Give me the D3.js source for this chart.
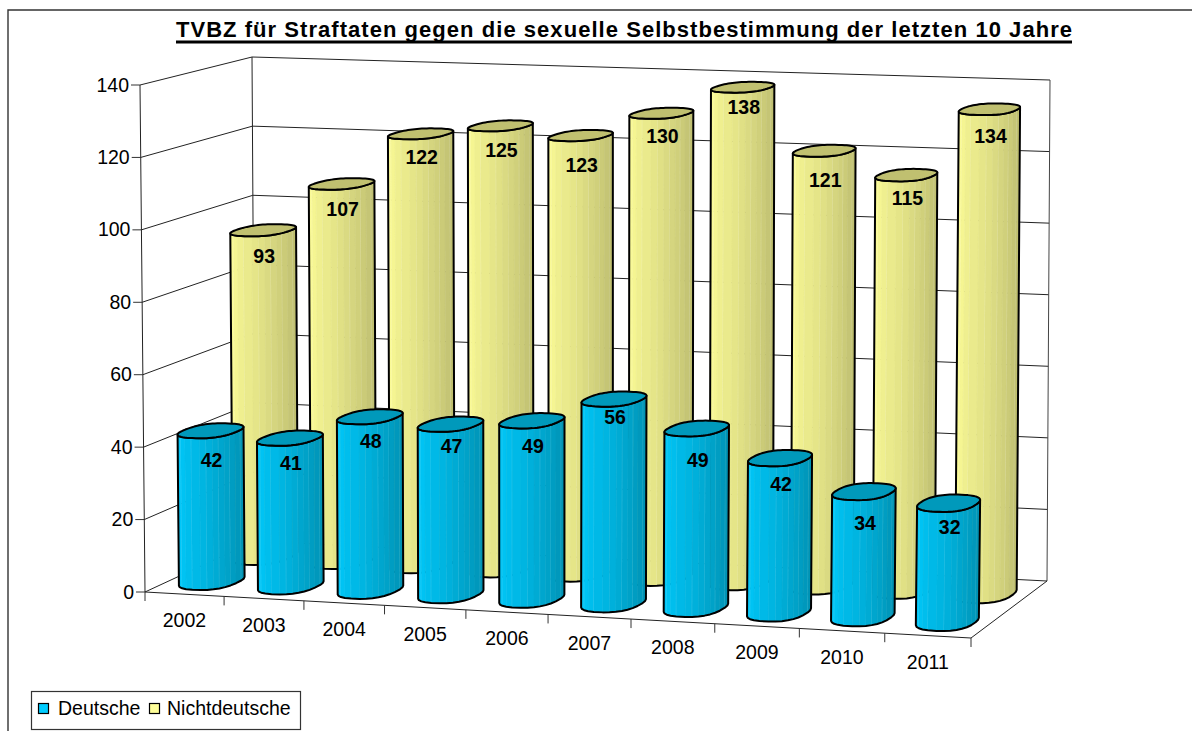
<!DOCTYPE html>
<html><head><meta charset="utf-8">
<script src="https://cdnjs.cloudflare.com/ajax/libs/d3/7.8.5/d3.min.js"></script>
<style>html,body{margin:0;padding:0;background:#fff}svg{display:block}text{font-family:"Liberation Sans",Arial,sans-serif;fill:#000}</style>
</head><body><svg id="c" width="1192" height="731"></svg>
<script>
const titleText = "TVBZ für Straftaten gegen die sexuelle Selbstbestimmung der letzten 10 Jahre";
const years = ["2002","2003","2004","2005","2006","2007","2008","2009","2010","2011"];
const deutsche = [42,41,48,47,49,56,49,42,34,32];
const nichtdeutsche = [93,107,122,125,123,130,138,121,115,134];
const valueTicks = [0,20,40,60,80,100,120,140];
const seriesNames = ["Deutsche","Nichtdeutsche"];

const svg = d3.select("#c");
const C = {fbl:[145,592],fbr:[971,638],ftl:[140,85],ftr:[978,114],
           bbl:[255,541],bbr:[1047,581],btl:[252,57],btr:[1050,80]};
const uWarp = (u,d) => {const k=0.047*(1-0.5*d); return u*(1-k)/(1-k*u);};
const v = d3.scaleLinear().domain([0,140]).range([0,1]);
const band = d3.scaleBand().domain(years).range([0,1]);
const lerp = (a,b,t)=>[a[0]+(b[0]-a[0])*t,a[1]+(b[1]-a[1])*t];
function P(u,d,val){
  const w=uWarp(u,d), t=v(val);
  const fb=lerp(C.fbl,C.fbr,w), ft=lerp(C.ftl,C.ftr,w), bb=lerp(C.bbl,C.bbr,w), bt=lerp(C.btl,C.btr,w);
  return lerp(lerp(fb,ft,t),lerp(bb,bt,t),d);
}
const line=(a,b,w,col)=>svg.append("line").attr("x1",a[0]).attr("y1",a[1]).attr("x2",b[0]).attr("y2",b[1])
  .attr("stroke",col||"#000").attr("stroke-width",w||1);

// outer frame
svg.append("path").attr("d","M8 731V10H1192").attr("fill","none").attr("stroke","#333").attr("stroke-width",1.4);

// walls & grid
valueTicks.forEach(t=>{
  line(P(0,0,t),P(0,1,t),1,"#222");
  if(t>0) line(P(0,1,t),P(1,1,t),1,"#222");
  const p=P(0,0,t);
  line([p[0]-9,p[1]],p,1,"#333");
  svg.append("text").attr("x",p[0]-11).attr("y",p[1]+6.5).attr("text-anchor","end").attr("font-size",19.5).text(t);
});
line(P(0,1,0),P(0,1,140),1,"#222");
line(P(1,1,0),P(1,1,140),1,"#444");
line(P(0,0,0),P(0,0,140),1,"#222");
line(P(0,1,0),P(1,1,0),1,"#222");
line(P(1,0,0),P(1,1,0),1,"#222");
line(P(0,0,0),P(1,0,0),1,"#222");
d3.range(0,11).forEach(i=>{const p=P(i/10,0,0);line(p,[p[0],p[1]+9],1,"#333");});
years.forEach(y=>{
  const u=band(y)+band.bandwidth()/2, p=P(u,0,0);
  svg.append("text").attr("x",p[0]).attr("y",p[1]+33).attr("text-anchor","middle").attr("font-size",19.5).text(y);
});

// cylinders
const ru=0.032, rd=0.165, N=14, sq=0.82;
const spow=x=>Math.sign(x)*Math.pow(Math.abs(x),sq);
function cylinder(u,dc,val,c0,c1,cTop,cLine,dy){
  const g=svg.append("g");
  const ring=(vv,a)=>P(u+ru*spow(Math.cos(a)),dc+rd*spow(Math.sin(a)),vv);
  let aL=0,aR=0,minX=1e9,maxX=-1e9;
  d3.range(0,360).forEach(i=>{const a=i*Math.PI/180,p=ring(val/2,a);if(p[0]<minX){minX=p[0];aL=a}if(p[0]>maxX){maxX=p[0];aR=a}});
  let a0=aL,a1=aR;
  while(a1>a0)a1-=2*Math.PI;
  if(Math.sin((a0+a1)/2)>0) {a1=aR; while(a1<a0)a1+=2*Math.PI;}
  const col=d3.scaleLinear().domain([0,1]).range([c0,c1]).interpolate(d3.interpolateRgb);
  const angs=d3.range(N+1).map(i=>a0+(a1-a0)*i/N);
  for(let i=0;i<N;i++){
    const t=i/(N-1);
    const pts=[ring(val,angs[i]),ring(val,angs[i+1]),ring(0,angs[i+1]),ring(0,angs[i])];
    g.append("polygon").attr("points",pts.join(" ")).attr("fill",col(t)).attr("stroke",col(t)).attr("stroke-width",.6);
    if(i%2==1&&i<N-1) g.append("line").attr("x1",pts[1][0]).attr("y1",pts[1][1]).attr("x2",pts[2][0]).attr("y2",pts[2][1]).attr("stroke",cLine).attr("stroke-width",.7).attr("opacity",.55);
  }
  const lg=d3.line();
  const arcTop=angs.map(a=>ring(val,a)), arcBot=angs.map(a=>ring(0,a)).reverse();
  g.append("path").attr("d",lg(arcTop.concat(arcBot))+"Z").attr("fill","none").attr("stroke","#000").attr("stroke-width",2).attr("stroke-linejoin","round");
  const cap=d3.range(72).map(i=>ring(val,i/72*2*Math.PI));
  g.append("path").attr("d",lg(cap)+"Z").attr("fill",cTop).attr("stroke","#000").attr("stroke-width",2).attr("stroke-linejoin","round");
  const c=P(u,dc,val);
  g.append("text").attr("x",c[0]+1).attr("y",c[1]+31+dy).attr("text-anchor","middle").attr("font-size",19.5).attr("font-weight","bold").text(val);
}
const dyBack=[2,1,-1,0,5,-1,-4,5,-1,3], dyFront=[5,1,0,-2,1,-6,8,2,7,0];
years.forEach((y,i)=>cylinder(band(y)+band.bandwidth()/2,0.74,nichtdeutsche[i],"#FFFF99","#BBBB6E","#C0C070","#fff",dyBack[i]));
years.forEach((y,i)=>cylinder(band(y)+band.bandwidth()/2,0.25,deutsche[i],"#00CCFF","#008FB0","#0099BB","#9fe6f5",dyFront[i]));

// title
svg.append("text").attr("x",176).attr("y",37).attr("font-size",22).attr("font-weight","bold")
  .attr("textLength",896).attr("lengthAdjust","spacing").text(titleText);
line([176,42],[1072,42],3,"#000");

// legend
svg.append("rect").attr("x",31.5).attr("y",691.5).attr("width",269).attr("height",38).attr("fill","#fff").attr("stroke","#333").attr("stroke-width",1.2);
const lx=[38,149], tx=[58,167], cols=["#00CCFF","#FFFF99"];
seriesNames.forEach((n,i)=>{
  svg.append("rect").attr("x",lx[i]+.5).attr("y",703.5).attr("width",10).attr("height",10).attr("fill",cols[i]).attr("stroke","#000").attr("stroke-width",1.2);
  svg.append("text").attr("x",tx[i]).attr("y",714.5).attr("font-size",19.5).text(n);
});
</script></body></html>
